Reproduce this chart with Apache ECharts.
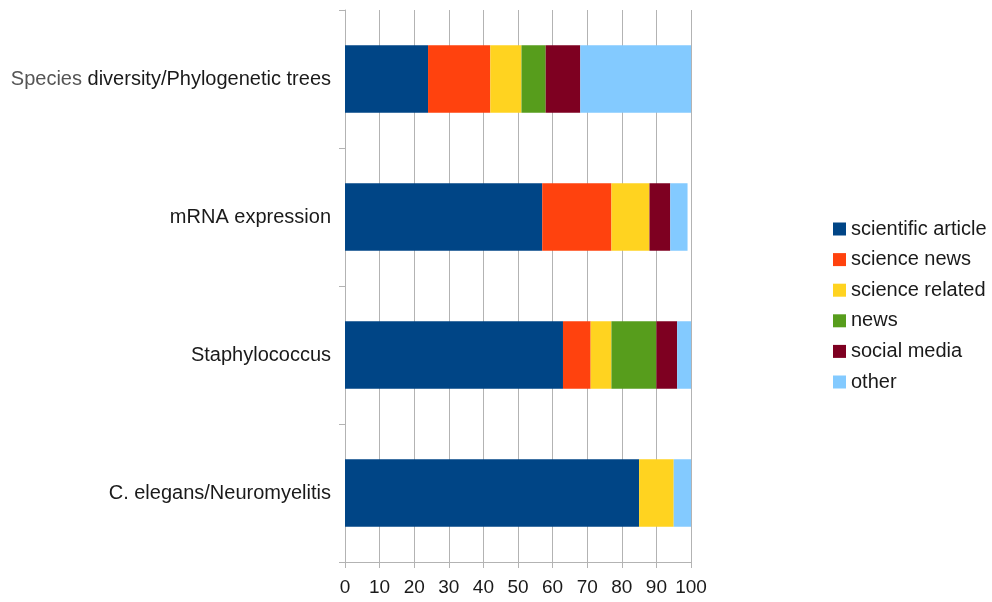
<!DOCTYPE html>
<html>
<head>
<meta charset="utf-8">
<script src="https://cdn.jsdelivr.net/npm/echarts@6/dist/echarts.min.js"></script>
<style>
  html, body { margin: 0; padding: 0; background: #ffffff; }
  #chart { width: 992px; height: 602px; }
</style>
</head>
<body>
<div id="chart"></div>
<script>
// Topics, top to bottom
const categories = [
  'Species diversity/Phylogenetic trees',
  'mRNA expression',
  'Staphylococcus',
  'C. elegans/Neuromyelitis'
];

// Share of sources per topic (%)
const scientificArticle = [24, 57, 63, 85];
const scienceNews       = [18, 20, 8, 0];
const scienceRelated    = [9, 11, 6, 10];
const news              = [7, 0, 13, 0];
const socialMedia       = [10, 6, 6, 0];
const other             = [32, 5, 4, 5];

const xTicks = [0, 10, 20, 30, 40, 50, 60, 70, 80, 90, 100];

const seriesDefs = [
  ['scientific article', scientificArticle, '#004586'],
  ['science news', scienceNews, '#ff420e'],
  ['science related', scienceRelated, '#ffd320'],
  ['news', news, '#579d1c'],
  ['social media', socialMedia, '#7e0021'],
  ['other', other, '#83caff']
];

const font = 'Liberation Sans, Arial, sans-serif';
const chart = echarts.init(document.getElementById('chart'), null, { renderer: 'canvas' });

chart.setOption({
  animation: false,
  backgroundColor: '#ffffff',
  grid: { left: 345, right: 301, top: 10, bottom: 40, containLabel: false },
  legend: {
    orient: 'vertical',
    left: 833,
    top: 219,
    padding: 0,
    itemWidth: 13,
    itemHeight: 13,
    itemGap: 10.6,
    icon: 'rect',
    textStyle: { fontFamily: font, fontSize: 20, lineHeight: 20, color: '#1a1a1a' },
    data: seriesDefs.map(d => d[0])
  },
  xAxis: {
    type: 'value',
    min: xTicks[0],
    max: xTicks[xTicks.length - 1],
    interval: 10,
    axisLine: { show: true, lineStyle: { color: '#b3b3b3', width: 1 } },
    axisTick: { show: true, length: 6, lineStyle: { color: '#b3b3b3' } },
    splitLine: { show: true, lineStyle: { color: '#b3b3b3', width: 1 } },
    axisLabel: { fontFamily: font, fontSize: 19, color: '#1a1a1a', margin: 16 }
  },
  yAxis: {
    type: 'category',
    inverse: true,
    data: categories,
    axisLine: { show: true, lineStyle: { color: '#b3b3b3', width: 1 } },
    axisTick: { show: true, length: 6, lineStyle: { color: '#b3b3b3' } },
    splitLine: { show: false },
    axisLabel: {
      fontFamily: font, fontSize: 20, color: '#1a1a1a', margin: 14,
      formatter: function (v) {
        if (v.indexOf('Species ') === 0) {
          return '{light|Species }' + v.slice(8);
        }
        return v;
      },
      rich: {
        light: { fontFamily: font, fontSize: 20, color: '#555555' }
      }
    }
  },
  series: seriesDefs.map(d => ({
    name: d[0],
    type: 'bar',
    stack: 'total',
    barWidth: '49%',
    data: d[1],
    itemStyle: { color: d[2] },
    emphasis: { disabled: true }
  }))
});
</script>
</body>
</html>
